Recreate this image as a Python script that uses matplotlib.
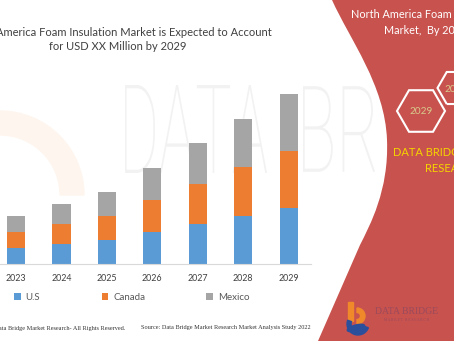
import numpy as np
import matplotlib
matplotlib.use("Agg")
import matplotlib.pyplot as plt
from matplotlib.patches import PathPatch, RegularPolygon, Wedge, Rectangle, Ellipse
from matplotlib.path import Path
from matplotlib.textpath import TextPath
from matplotlib.font_manager import FontProperties
from matplotlib.transforms import Affine2D

# data (placeholder market values)
years = ["2023", "2024", "2025", "2026", "2027", "2028", "2029"]
us = [16, 20, 24, 32, 40, 48, 56]
canada = [16, 20, 24, 32, 40, 49, 57]
mexico = [16, 20, 24, 32, 41, 48, 57]
series_names = ["U.S", "Canada", "Mexico"]
series_colors = ["#5B9BD5", "#ED7D31", "#A5A5A5"]

W, H = 454, 341
RED = "#C8524E"
FONT = "Lato"

fig = plt.figure(figsize=(W / 100, H / 100), dpi=100)

# background layer in pixel coordinates
bg = fig.add_axes([0, 0, 1, 1])
bg.set_xlim(0, W)
bg.set_ylim(H, 0)
bg.axis("off")

# faint watermark swoosh and letters
bg.add_patch(Wedge((0, 195), 84, 270, 360, width=24, color="#FEF5EE", zorder=1))

wm_font = FontProperties(family="Roboto", weight="light")


def watermark(word, x0, x1, y0, y1):
    tp = TextPath((0, 0), word, size=1, prop=wm_font)
    ext = tp.get_extents()
    sx = (x1 - x0) / ext.width
    sy = (y1 - y0) / ext.height
    tr = Affine2D().translate(-ext.x0, -ext.y0).scale(sx, -sy).translate(x0, y1)
    bg.add_patch(PathPatch(tr.transform_path(tp), fc="#F2F2F2", ec="none", zorder=1))


watermark("DATA", 125, 267, 85, 173)
watermark("BRIDGE", 303, 520, 85, 173)

# red side panel
verts = [(332, 0), (350, 40), (385, 85), (387, 140),
         (389, 190), (370, 225), (360, 245),
         (318, 341), (W, H), (W, 0), (332, 0)]
codes = [Path.MOVETO, Path.CURVE4, Path.CURVE4, Path.CURVE4,
         Path.CURVE4, Path.CURVE4, Path.CURVE4,
         Path.LINETO, Path.LINETO, Path.LINETO, Path.CLOSEPOLY]
bg.add_patch(PathPatch(Path(verts, codes), fc=RED, ec="none", zorder=2))

bg.text(426, 14, "North America Foam Insulation", ha="center", va="center",
        color="white", fontsize=7.8, family=FONT, zorder=3)
bg.text(426, 30, "Market,  By 2029", ha="center", va="center",
        color="white", fontsize=7.8, family=FONT, zorder=3)

# hexagons
for cx, cy, r, label in [(421, 111, 24, "2029"), (456, 88, 18.5, "2022")]:
    bg.add_patch(RegularPolygon((cx, cy), 6, radius=r, orientation=np.pi / 6,
                                fill=False, ec="white", lw=1.5, zorder=3))
    bg.text(cx, cy + 1, label, ha="center", va="center", color="#D8C98C",
            fontsize=7.2, family=FONT, zorder=3)

bg.text(453, 153, "DATA BRIDGE MARKET", ha="center", va="center",
        color="#F5D400", fontsize=8, family=FONT, zorder=3)
bg.text(453, 169, "RESEARCH", ha="center", va="center",
        color="#F5D400", fontsize=8, family=FONT, zorder=3)

# logo bottom right
bg.add_patch(Rectangle((348, 302), 4.5, 19, color="#F0892A", zorder=3))
bg.add_patch(Wedge((357, 316), 8, 270, 90, width=4.5, color="#F0892A", zorder=3))
bg.add_patch(Wedge((358, 324), 11, 20, 200, width=4, color="#2C4F9C", zorder=3))
bg.add_patch(Ellipse((356, 328), 18, 6, angle=-15, color="#2C4F9C", zorder=3))
bg.text(407, 312, "DATA BRIDGE", ha="center", va="center", color="#9A4A5C",
        fontsize=7, family="Liberation Serif", zorder=3)
bg.text(407, 320, "M A R K E T   R E S E A R C H", ha="center", va="center",
        color="#9A4A5C", fontsize=2.6, family="Liberation Serif", zorder=3)

# title
bg.text(118, 32, "North America Foam Insulation Market is Expected to Account",
        ha="center", va="center", color="#404040", fontsize=8, family=FONT, zorder=3)
bg.text(118, 47, "for USD XX Million by 2029",
        ha="center", va="center", color="#404040", fontsize=8, family=FONT, zorder=3)

# footer
bg.text(125, 328, "\u00a9 Data Bridge Market Research- All Rights Reserved.",
        ha="right", va="center", color="#333333", fontsize=4.5,
        family="Liberation Serif", zorder=3)
bg.text(141, 328, "Source: Data Bridge Market Research Market Analysis Study 2022",
        ha="left", va="center", color="#333333", fontsize=4.5,
        family="Liberation Serif", zorder=3)

# stacked bar chart
base_y, top_y = 264, 80
ax = fig.add_axes([-6.7 / W, (H - base_y) / H, 318 / W, (base_y - top_y) / H])
ax.patch.set_alpha(0)
x = np.arange(len(years))
bottoms = np.zeros(len(years))
for vals, name, col in zip([us, canada, mexico], series_names, series_colors):
    ax.bar(x, vals, 0.4, bottom=bottoms, color=col, label=name, zorder=2)
    bottoms = bottoms + np.array(vals)

ax.set_xlim(-0.5, 6.5)
ax.set_ylim(0, base_y - top_y)
ax.set_xticks(x, years)
ax.set_yticks([])
for s in ["top", "right", "left"]:
    ax.spines[s].set_visible(False)
ax.spines["bottom"].set_color("#D9D9D9")
ax.tick_params(axis="x", length=0, pad=7, labelsize=6.4, labelcolor="#404040")
for lbl in ax.get_xticklabels():
    lbl.set_family(FONT)

ax.legend(loc="center left", bbox_to_anchor=(14 / W, 1 - 297 / H),
          bbox_transform=fig.transFigure, ncol=3, frameon=False,
          borderpad=0, borderaxespad=0, handlelength=0.7, handleheight=0.7,
          handletextpad=0.5, columnspacing=6.3,
          prop=FontProperties(family=FONT, size=7), labelcolor="#595959")

fig.savefig("out.png", dpi=100)
